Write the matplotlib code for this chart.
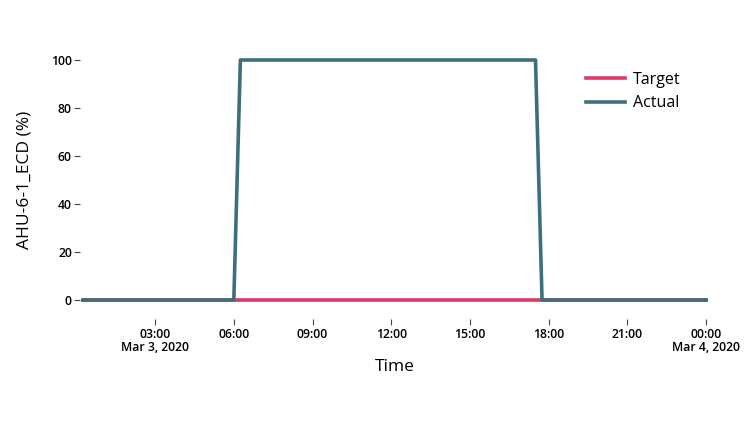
import pandas as pd
import matplotlib
matplotlib.use("Agg")
import matplotlib.pyplot as plt

# 15-minute samples, Mar 3 2020 00:15 -> Mar 4 2020 00:00
times = pd.date_range("2020-03-03 00:15", "2020-03-04 00:00", freq="15min")
# damper on from 06:15 to 17:30
on_start = pd.Timestamp("2020-03-03 06:15")
on_end = pd.Timestamp("2020-03-03 17:30")
actual = [100 if on_start <= t <= on_end else 0 for t in times]
target = [0] * len(times)

tick_times = pd.date_range("2020-03-03 03:00", "2020-03-04 00:00", freq="3h")
tick_labels = ["03:00\nMar 3, 2020", "06:00", "09:00", "12:00", "15:00",
               "18:00", "21:00", "00:00\nMar 4, 2020"]
y_ticks = [0, 20, 40, 60, 80, 100]

plt.rcParams["font.family"] = ["Open Sans", "DejaVu Sans"]

fig = plt.figure(figsize=(7.54, 4.33), dpi=100)
ax = fig.add_axes([83 / 754, 1 - 300 / 433, (706 - 83) / 754, 240 / 433])

ax.plot(times, target, color="#dc3868", lw=2.6, label="Target", clip_on=False)
ax.plot(times, actual, color="#3c6e7c", lw=2.6, label="Actual", clip_on=False)

# spines first: set_position resets the tick objects
for s in ax.spines.values():
    s.set_visible(False)
ax.spines["bottom"].set_position(("outward", 14))
ax.spines["left"].set_position(("outward", 2))

ax.set_xlim(times[0], times[-1])
ax.set_ylim(0, 100)
ax.set_xticks(tick_times)
ax.set_xticklabels(tick_labels, fontsize=8.8, fontweight=600, linespacing=1.0)
ax.set_yticks(y_ticks)
ax.set_yticklabels([str(v) for v in y_ticks], fontsize=8.8, fontweight=600)
ax.tick_params(axis="x", length=4, width=0.8, color="#444444", pad=2)
ax.tick_params(axis="y", length=4, width=0.8, color="#444444", pad=2)

ax.set_xlabel("Time", fontsize=12.5, labelpad=4)
ax.set_ylabel("AHU-6-1_ECD (%)", fontsize=12.5, labelpad=13)

ax.legend(loc="upper left", bbox_to_anchor=(0.785, 1.01), frameon=False,
          fontsize=11.5, handlelength=2.4, handletextpad=0.5, labelspacing=0.45)

fig.savefig("out.png", dpi=100)
